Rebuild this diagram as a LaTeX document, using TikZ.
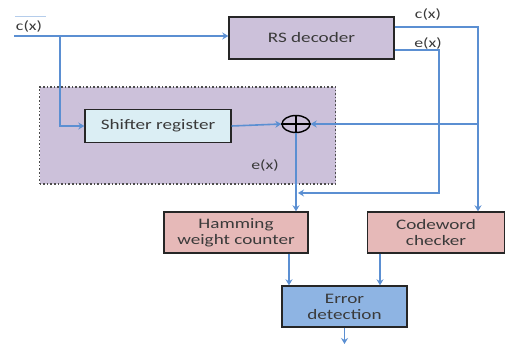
\documentclass[tikz,border=0pt]{standalone}
\usepackage{fontspec}
\setmainfont{Carlito}[FakeStretch=1.32]
\usetikzlibrary{arrows.meta,shapes.geometric}
\definecolor{lav}{HTML}{CCC1DA}
\definecolor{cyanl}{HTML}{DBEEF4}
\definecolor{pinkb}{HTML}{E6B9B8}
\definecolor{blueb}{HTML}{8EB4E3}
\definecolor{wire}{HTML}{5B8FD2}
\definecolor{txt}{HTML}{3A3A3A}
\begin{document}
\begin{tikzpicture}[x=1pt,y=-1pt,
  box/.style={draw=black!85,line width=1.4pt,font=\fontsize{14.5}{16}\selectfont,text=txt,align=center,inner sep=0pt},
  lbl/.style={font=\fontsize{13.5}{14}\selectfont,text=txt,inner sep=0pt},
  wire/.style={draw=wire,line width=1.6pt},
  arr/.style={wire,-{Stealth[length=6pt,width=7pt,inset=2pt]}}]
\useasboundingbox (0,0) rectangle (506,345);
\node[draw=black!70,dotted,line width=1.6pt,fill=lav,minimum width=296pt,minimum height=97pt,inner sep=0pt] (grp) at (187.5,135.5) {};
\node[box,fill=lav,minimum width=165pt,minimum height=42pt] (rs) at (311.5,38) {RS decoder};
\node[box,fill=cyanl,minimum width=146pt,minimum height=33pt] (sr) at (158,126) {Shifter register};
\node[draw=black,ellipse,line width=1.4pt,minimum width=28pt,minimum height=17pt,inner sep=0pt] (xor) at (296,124) {};
\draw[black,line width=1.4pt] (xor.north) -- (xor.south) (xor.west) -- (xor.east);
\node[box,fill=pinkb,minimum width=144pt,minimum height=41pt] (hw) at (236,232.5) {Hamming\\weight counter};
\node[box,fill=pinkb,minimum width=137pt,minimum height=41pt] (cw) at (436,232.5) {Codeword\\checker};
\node[box,fill=blueb,minimum width=125pt,minimum height=41pt] (ed) at (344.5,306.5) {Error\\detection};
% labels
\node[lbl] (lin) at (29,26) {c(x)};
\draw[wire!45,line width=0.9pt] ([xshift=-1pt,yshift=3pt]lin.north west) -- ([xshift=4pt,yshift=3pt]lin.north east);
\node[lbl] (lc) at (428,15) {c(x)};
\node[lbl] (le) at (428,43) {e(x)};
\node[lbl] (le2) at (265,165) {e(x)};
% wires
\coordinate (in) at (14,36);
\coordinate (br) at (60,36);
\coordinate (cR) at (478,27);
\coordinate (eR) at (439,50);
\coordinate (eB) at (439,193);
\coordinate (out) at (344.5,344);
\draw[arr] (in) -- (in -| rs.west);
\draw[arr] (br) |- (sr.west);
\draw[arr] (sr.east) -- (xor.west);
\draw[arr] (rs.east |- cR) -- (cR) -- (cR |- cw.north);
\draw[arr] (rs.east |- eR) -- (eR) -- (eB) -- ([xshift=2pt]xor.south |- eB);
\draw[arr] (cR |- xor) -- (xor.east);
\draw[arr] (xor.south) -- (xor.south |- hw.north);
\draw[arr] ([xshift=53pt]hw.south) -- ([xshift=53pt]hw.south |- ed.north);
\draw[arr] ([xshift=-56pt]cw.south) -- ([xshift=-56pt]cw.south |- ed.north);
\draw[arr] (ed.south) -- (out);
\end{tikzpicture}
\end{document}
